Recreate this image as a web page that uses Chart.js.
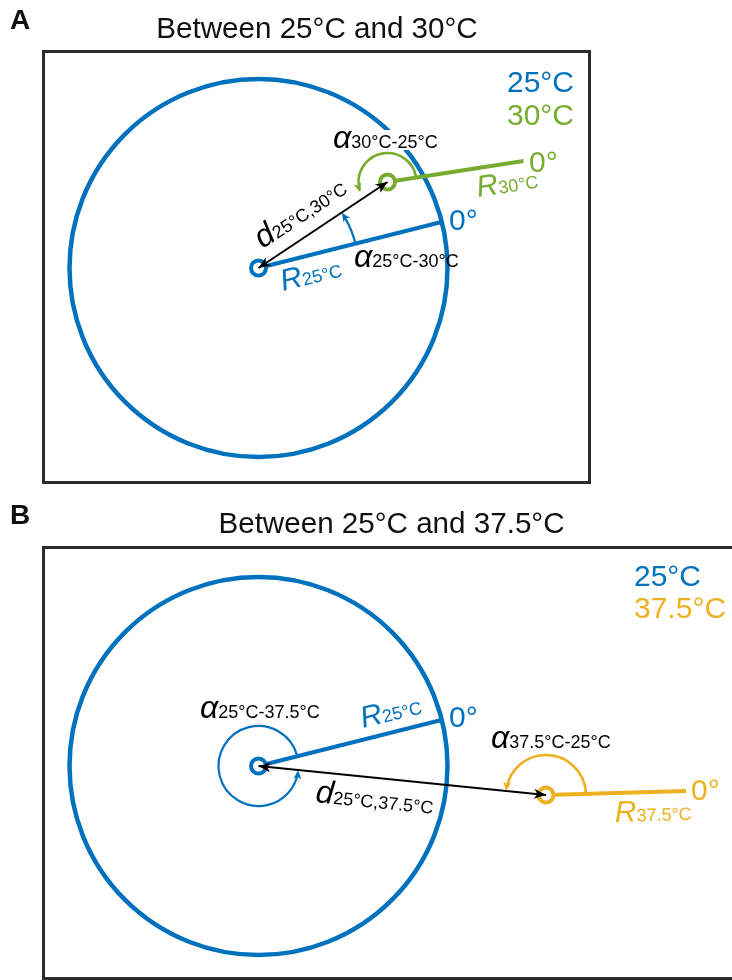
<!DOCTYPE html>
<html>
<head>
<meta charset="utf-8">
<script src="https://cdn.jsdelivr.net/npm/chart.js@4.4.0/dist/chart.umd.min.js"></script>
<style>
  html, body { margin: 0; padding: 0; width: 732px; height: 980px; overflow: hidden; background: #fff;
    font-family: "Liberation Sans", Arial, Helvetica, sans-serif; }
  canvas { position: absolute; left: 0; display: block; }
  .title { position: absolute; font-size: 29.6px; line-height: 29.6px; white-space: nowrap;
    transform: translateX(-50%); color: #111; }
  .letter { position: absolute; font-weight: bold; font-size: 28px; line-height: 28px; color: #111; }
</style>
</head>
<body>
<canvas id="chartA" width="732" height="490" style="top:0;width:732px;height:490px"></canvas>
<canvas id="chartB" width="760" height="490" style="top:490px;width:760px;height:490px"></canvas>
<div class="letter" style="left:10px;top:6px">A</div>
<div class="title" id="titleA" style="left:317px;top:13px"></div>
<div class="letter" style="left:10px;top:501px">B</div>
<div class="title" id="titleB" style="left:391.5px;top:508px"></div>
<script>
// ---- Panel A: 25 °C reference orbit and the 30 °C state (units: px about the 25 °C centre) ----
const tempsA        = ['25°C', '30°C'];
const centreXA      = [0, 129];
const centreYA      = [0, 86];
const rEndXA        = [183, 265];     // tip of each R vector (0° direction)
const rEndYA        = [46, 107];
const orbitRadiusA  = 189;            // circle of the 25 °C state
const alphaFromA    = [14, 8.8];      // angle arcs, degrees counter-clockwise
const alphaToA      = [33.5, 200];
const alphaRadiusA  = [100, 29];

// ---- Panel B: 25 °C reference orbit and the 37.5 °C state ----
const tempsB        = ['25°C', '37.5°C'];
const centreXB      = [0, 287.5];
const centreYB      = [0, -29];
const rEndXB        = [183, 427.5];
const rEndYB        = [46, -25];
const orbitRadiusB  = 189;
const alphaFromB    = [14, 1.6];
const alphaToB      = [354, 174];
const alphaRadiusB  = [40, 40];

const BLUE = '#0072BD', GREEN = '#77AC30', ORANGE = '#EDB120', INK = '#000';
const FONT = '"Liberation Sans", Arial, Helvetica, sans-serif';

document.getElementById('titleA').textContent = 'Between ' + tempsA[0] + ' and ' + tempsA[1];
document.getElementById('titleB').textContent = 'Between ' + tempsB[0] + ' and ' + tempsB[1];

function toPx(chart, x, y) {
  return [chart.scales.x.getPixelForValue(x), chart.scales.y.getPixelForValue(y)];
}
function lenPx(chart, r) {
  const s = chart.scales.x;
  return Math.abs(s.getPixelForValue(r) - s.getPixelForValue(0));
}

// filled, slightly notched arrow head with its tip at (tx, ty)
function arrowHead(ctx, tx, ty, dx, dy, L, W, color) {
  const m = Math.hypot(dx, dy); dx /= m; dy /= m;
  const nx = -dy, ny = dx;
  const bx = tx - dx * L, by = ty - dy * L;
  ctx.beginPath();
  ctx.moveTo(tx, ty);
  ctx.lineTo(bx + nx * W, by + ny * W);
  ctx.lineTo(tx - dx * L * 0.72, ty - dy * L * 0.72);
  ctx.lineTo(bx - nx * W, by - ny * W);
  ctx.closePath();
  ctx.fillStyle = color;
  ctx.fill();
}

// text made of runs (symbol + subscript), anchored at the baseline
function richText(ctx, x, y, rot, parts, color, align, bg) {
  ctx.save();
  ctx.translate(x, y);
  ctx.rotate(-rot * Math.PI / 180);
  const fonts = parts.map(p => (p.i ? 'italic ' : '') + p.s + 'px ' + FONT);
  let total = 0;
  const widths = parts.map((p, k) => { ctx.font = fonts[k]; const w = ctx.measureText(p.t).width; total += w; return w; });
  let cx = align === 'right' ? -total : 0;
  if (bg) { ctx.fillStyle = bg; ctx.fillRect(cx - 3, -18, total + 6, 20); }
  ctx.fillStyle = color;
  ctx.textAlign = 'left';
  ctx.textBaseline = 'alphabetic';
  parts.forEach((p, k) => { ctx.font = fonts[k]; ctx.fillText(p.t, cx, 0); cx += widths[k]; });
  ctx.restore();
}

const sym = (t) => ({ t: t, s: 32, i: true });
const sub = (t) => ({ t: t, s: 18 });
const big = (t) => ({ t: t, s: 30 });
const rr  = () => ({ t: 'R', s: 30, i: true });

function makePanel(id, P) {
  const pts = P.cx.map((x, i) => ({ x: x, y: P.cy[i] }));
  const datasets = [
    { // distance vector between the two centres
      data: [pts[0], pts[1]], showLine: true, borderColor: INK, borderWidth: 2,
      pointRadius: 0, order: 0
    },
    { // centre markers
      data: pts, showLine: false, pointRadius: 7.5, pointBorderWidth: 4,
      pointBackgroundColor: '#fff', pointBorderColor: P.colors, order: 1
    }
  ];
  P.cx.forEach((x, i) => {
    datasets.push({ // R vector pointing to 0°
      data: [pts[i], { x: P.ex[i], y: P.ey[i] }], showLine: true, borderColor: P.colors[i],
      borderWidth: 4.2, borderCapStyle: 'butt', pointRadius: 0, order: 2
    });
  });
  datasets.push({ // orbit of the reference temperature
    data: [pts[0]], showLine: false,
    pointRadius: (c) => lenPx(c.chart, P.orbit),
    pointBorderWidth: 4.5, pointBorderColor: P.colors[0],
    pointBackgroundColor: 'rgba(0,0,0,0)', order: 3
  });

  const overlay = {
    id: 'overlay',
    afterDatasetsDraw(chart) {
      const ctx = chart.ctx;
      ctx.save();
      // angle arcs with arrow heads
      P.cx.forEach((x, i) => {
        const [px, py] = toPx(chart, x, P.cy[i]);
        const r = lenPx(chart, P.ar[i]);
        const a0 = P.af[i] * Math.PI / 180, a1 = P.at[i] * Math.PI / 180;
        ctx.beginPath();
        ctx.arc(px, py, r, -a0, -a1 + 0.06, true);
        ctx.strokeStyle = P.colors[i];
        ctx.lineWidth = i === 0 ? 2.2 : 2.6;
        ctx.stroke();
        const tx = px + r * Math.cos(a1), ty = py - r * Math.sin(a1);
        arrowHead(ctx, tx, ty, -Math.sin(a1), -Math.cos(a1), 9, 4, P.colors[i]);
      });
      // heads on both ends of the distance vector
      const [x0, y0] = toPx(chart, P.cx[0], P.cy[0]);
      const [x1, y1] = toPx(chart, P.cx[1], P.cy[1]);
      arrowHead(ctx, x1, y1, x1 - x0, y1 - y0, 12, 5, INK);
      arrowHead(ctx, x0, y0, x0 - x1, y0 - y1, 12, 5, INK);
      // labels
      P.labels.forEach(L => {
        const [lx, ly] = toPx(chart, L.at[0], L.at[1]);
        richText(ctx, lx, ly, L.rot || 0, L.parts, L.color, L.align, L.bg);
      });
      ctx.restore();
    },
    afterDraw(chart) {
      const a = chart.chartArea, ctx = chart.ctx;
      ctx.save();
      ctx.strokeStyle = '#2b2b2b';
      ctx.lineWidth = 3;
      ctx.strokeRect(a.left, a.top, a.right - a.left, a.bottom - a.top);
      ctx.restore();
    }
  };

  return new Chart(document.getElementById(id), {
    type: 'scatter',
    data: { datasets: datasets },
    options: {
      responsive: false, animation: false, events: [], devicePixelRatio: 1,
      layout: { padding: P.padding, autoPadding: false },
      plugins: { legend: { display: false }, tooltip: { enabled: false } },
      scales: {
        x: { type: 'linear', min: P.xr[0], max: P.xr[1], display: false },
        y: { type: 'linear', min: P.yr[0], max: P.yr[1], display: false }
      }
    },
    plugins: [overlay]
  });
}

makePanel('chartA', {
  cx: centreXA, cy: centreYA, ex: rEndXA, ey: rEndYA, orbit: orbitRadiusA,
  af: alphaFromA, at: alphaToA, ar: alphaRadiusA, colors: [BLUE, GREEN],
  xr: [-215, 331], yr: [-214.5, 216.5],
  padding: { left: 43.5, top: 51.5, right: 142.5, bottom: 7.5 },
  labels: [
    { at: [74.5, 120], parts: [sym('α'), sub(tempsA[1] + '-' + tempsA[0])], color: INK, bg: '#fff' },
    { at: [4, 19], rot: 33.5, parts: [sym('d'), sub(tempsA[0] + ',' + tempsA[1])], color: INK },
    { at: [95.5, 1], parts: [sym('α'), sub(tempsA[0] + '-' + tempsA[1])], color: INK },
    { at: [24.5, -23], rot: 14, parts: [rr(), sub(tempsA[0])], color: BLUE },
    { at: [190.5, 38], parts: [big('0°')], color: BLUE },
    { at: [219.5, 71], rot: 8.8, parts: [rr(), sub(tempsA[1])], color: GREEN },
    { at: [270.5, 96], parts: [big('0°')], color: GREEN },
    { at: [315.5, 176], align: 'right', parts: [big(tempsA[0])], color: BLUE },
    { at: [315.5, 143], align: 'right', parts: [big(tempsA[1])], color: GREEN }
  ]
});

makePanel('chartB', {
  cx: centreXB, cy: centreYB, ex: rEndXB, ey: rEndYB, orbit: orbitRadiusB,
  af: alphaFromB, at: alphaToB, ar: alphaRadiusB, colors: [BLUE, ORANGE],
  xr: [-215, 480.5], yr: [-212.5, 218.5],
  padding: { left: 43.5, top: 57.5, right: 21, bottom: 1.5 },
  labels: [
    { at: [-58.5, 48], parts: [sym('α'), sub(tempsB[0] + '-' + tempsB[1])], color: INK },
    { at: [104.5, 38], rot: 14, parts: [rr(), sub(tempsB[0])], color: BLUE },
    { at: [190.5, 39], parts: [big('0°')], color: BLUE },
    { at: [56.5, -36], rot: -5.7, parts: [sym('d'), sub(tempsB[0] + ',' + tempsB[1])], color: INK },
    { at: [232.5, 18], parts: [sym('α'), sub(tempsB[1] + '-' + tempsB[0])], color: INK },
    { at: [356.5, -56], rot: 1.6, parts: [rr(), sub(tempsB[1])], color: ORANGE },
    { at: [432.5, -34], parts: [big('0°')], color: ORANGE },
    { at: [375.5, 180], parts: [big(tempsB[0])], color: BLUE },
    { at: [375.5, 148], parts: [big(tempsB[1])], color: ORANGE }
  ]
});
</script>
</body>
</html>
